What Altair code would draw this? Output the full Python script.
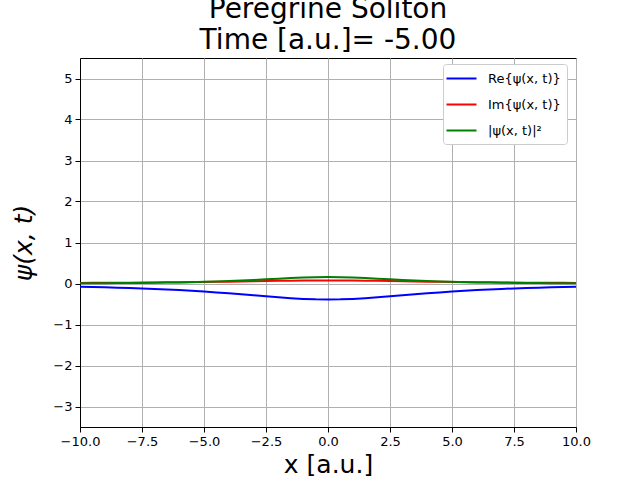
import altair as alt
import pandas as pd

x_vals = [-10.0, -9.5, -9.0, -8.5, -8.0, -7.5, -7.0, -6.5, -6.0, -5.5, -5.0, -4.5, -4.0, -3.5, -3.0, -2.5, -2.0, -1.5, -1.0, -0.5,
          0.0, 0.5, 1.0, 1.5, 2.0, 2.5, 3.0, 3.5, 4.0, 4.5, 5.0, 5.5, 6.0, 6.5, 7.0, 7.5, 8.0, 8.5, 9.0, 9.5, 10.0]
re_vals = [-0.079, -0.085, -0.093, -0.101, -0.111, -0.121, -0.133, -0.146, -0.161, -0.178, -0.196, -0.217, -0.239, -0.263, -0.288, -0.313, -0.338, -0.359, -0.376, -0.387,
           -0.391, -0.387, -0.376, -0.359, -0.338, -0.313, -0.288, -0.263, -0.239, -0.217, -0.196, -0.178, -0.161, -0.146, -0.133, -0.121, -0.111, -0.101, -0.093, -0.085, -0.079]
im_vals = [0.0150, 0.0163, 0.0177, 0.0193, 0.0210, 0.0230, 0.0253, 0.0278, 0.0307, 0.0338, 0.0374, 0.0413, 0.0455, 0.0501, 0.0548, 0.0596, 0.0642, 0.0683, 0.0715, 0.0736,
           0.0744, 0.0736, 0.0715, 0.0683, 0.0642, 0.0596, 0.0548, 0.0501, 0.0455, 0.0413, 0.0374, 0.0338, 0.0307, 0.0278, 0.0253, 0.0230, 0.0210, 0.0193, 0.0177, 0.0163, 0.0150]
abs2_vals = [0.0064, 0.0076, 0.0089, 0.0106, 0.0127, 0.0152, 0.0183, 0.0222, 0.0269, 0.0328, 0.0400, 0.0488, 0.0594, 0.0718, 0.0861, 0.1018, 0.1181, 0.1336, 0.1466, 0.1553,
             0.1584, 0.1553, 0.1466, 0.1336, 0.1181, 0.1018, 0.0861, 0.0718, 0.0594, 0.0488, 0.0400, 0.0328, 0.0269, 0.0222, 0.0183, 0.0152, 0.0127, 0.0106, 0.0089, 0.0076, 0.0064]

series_names = ["Re{ψ(x, t)}", "Im{ψ(x, t)}", "|ψ(x, t)|²"]
series_colors = ["#0000ff", "#ff0000", "#008000"]

rows = []
for name, vals in zip(series_names, [re_vals, im_vals, abs2_vals]):
    for xv, v in zip(x_vals, vals):
        rows.append({"x": xv, "value": v, "series": name})
df = pd.DataFrame(rows)

axis_common = dict(grid=True, gridColor="#b0b0b0", gridWidth=1, domainColor="black", tickColor="black",
                   tickSize=5, labelFontSize=13, labelFont="DejaVu Sans", titleFont="DejaVu Sans",
                   labelColor="black", titleColor="black", labelPadding=3, titleFontSize=25,
                   titleFontWeight="normal", labelFlush=False)

chart = alt.Chart(df).mark_line(strokeWidth=2, clip=True).encode(
    x=alt.X("x:Q", scale=alt.Scale(domain=[-10, 10], nice=False, zero=False),
            axis=alt.Axis(values=[-10, -7.5, -5, -2.5, 0, 2.5, 5, 7.5, 10], format=".1f",
                          title="x [a.u.]", titlePadding=4, **axis_common)),
    y=alt.Y("value:Q", scale=alt.Scale(domain=[-3.5, 5.5], nice=False, zero=False),
            axis=alt.Axis(values=[-3, -2, -1, 0, 1, 2, 3, 4, 5], format="d",
                          title="ψ(x, t)", titleFontStyle="italic", titlePadding=16, **axis_common)),
    color=alt.Color("series:N", sort=series_names,
                    scale=alt.Scale(domain=series_names, range=series_colors),
                    legend=alt.Legend(title=None, orient="none", legendX=363, legendY=6,
                                      symbolType="M-2,0L2,0", symbolSize=225, symbolStrokeWidth=2,
                                      symbolOffset=4,
                                      labelFontSize=13, labelFont="DejaVu Sans", labelOffset=18,
                                      rowPadding=10, padding=6, strokeColor="#cccccc",
                                      cornerRadius=3, fillColor="white", labelLimit=200)),
    order=alt.Order("x:Q"),
).properties(
    width=496, height=369,
    title=alt.TitleParams(text=["Peregrine Soliton", "Time [a.u.]= -5.00"], fontSize=28,
                          fontWeight="normal", font="DejaVu Sans", anchor="middle",
                          lineHeight=31, offset=3, color="black"),
    padding={"left": 80, "top": 58, "right": 64, "bottom": 53},
    autosize="none",
).configure(
    font="DejaVu Sans", background="white"
).configure_view(
    stroke="black", strokeWidth=1
)

chart.save("out.html", embed_options={"renderer": "svg", "actions": False})
